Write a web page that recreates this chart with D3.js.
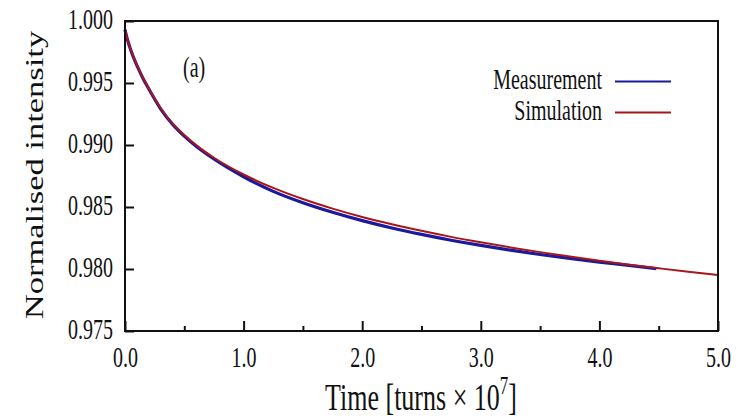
<!DOCTYPE html>
<html>
<head>
<meta charset="utf-8">
<script src="https://cdn.jsdelivr.net/npm/d3@7"></script>
<style>
  html, body { margin: 0; padding: 0; background: #fff; }
  svg { display: block; }
  text { font-family: "Liberation Serif", "Times New Roman", serif; fill: #111; }
</style>
</head>
<body>
<svg id="chart" width="742" height="419"></svg>
<script>
// ---- data ----
const simTime = [0, 0.02, 0.05, 0.1, 0.15, 0.2, 0.3, 0.4, 0.5, 0.6, 0.75, 1.0, 1.25, 1.5, 1.75, 2.0, 2.25, 2.5, 2.75, 3.0, 3.25, 3.5, 3.75, 4.0, 4.25, 4.5, 4.75, 5.0];
const simValues = [0.9993, 0.99855, 0.99765, 0.99645, 0.99545, 0.99458, 0.99298, 0.99175, 0.9908, 0.98999, 0.98897, 0.98762, 0.98654, 0.98564, 0.98487, 0.9842, 0.98361, 0.98308, 0.98259, 0.98215, 0.98174, 0.98136, 0.981, 0.98067, 0.98035, 0.98006, 0.97978, 0.97952];
const measTime = [0, 0.02, 0.05, 0.1, 0.15, 0.2, 0.3, 0.4, 0.5, 0.6, 0.75, 1.0, 1.25, 1.5, 1.75, 2.0, 2.25, 2.5, 2.75, 3.0, 3.25, 3.5, 3.75, 4.0, 4.25, 4.48];
const measValues = [0.9993, 0.99853, 0.99762, 0.99642, 0.99541, 0.99453, 0.99292, 0.99168, 0.99072, 0.9899, 0.98887, 0.98744, 0.98626, 0.98534, 0.98457, 0.9839, 0.98331, 0.98279, 0.98232, 0.9819, 0.98152, 0.98117, 0.98085, 0.98056, 0.98029, 0.98002];
const xTicks = [0, 1, 2, 3, 4, 5];
const xMinorTicks = [0.5, 1.5, 2.5, 3.5, 4.5];
const yTicks = [0.975, 0.980, 0.985, 0.990, 0.995, 1.000];
const seriesNames = ["Measurement", "Simulation"];
const seriesColors = ["#1a1a9c", "#a8161c"];

// ---- layout ----
const svg = d3.select("#chart");
const L = 125, R = 718, T = 21, B = 331;
const STRETCH = 1.42;
const x = d3.scaleLinear().domain([0, 5]).range([L, R]);
const y = d3.scaleLinear().domain([0.975, 1.0]).range([B, T]);

// series
const line = d3.line().x(d => x(d[0])).y(d => y(d[1])).curve(d3.curveMonotoneX);
const meas = measTime.map((t, i) => [t, measValues[i]]);
const sim = simTime.map((t, i) => [t, simValues[i]]);

const plot = svg.append("g");
plot.append("path").datum(meas).attr("d", line)
  .attr("fill", "none").attr("stroke", seriesColors[0]).attr("stroke-width", 3.2);
plot.append("path").datum(sim).attr("d", line)
  .attr("fill", "none").attr("stroke", seriesColors[1]).attr("stroke-width", 2);

// frame
svg.append("rect").attr("x", L).attr("y", T).attr("width", R - L).attr("height", B - T)
  .attr("fill", "none").attr("stroke", "#111").attr("stroke-width", 2);

// x axis major
const gx = svg.append("g").attr("transform", `translate(0,${B})`)
  .call(d3.axisBottom(x).tickValues(xTicks).tickSizeInner(-10).tickSizeOuter(0)
    .tickFormat(d3.format(".1f")));
gx.attr("font-family", null).attr("font-size", null);
gx.select(".domain").remove();
gx.selectAll(".tick line").attr("stroke", "#111").attr("stroke-width", 2);
gx.selectAll(".tick text").attr("y", 0).attr("dy", null)
  .attr("transform", `translate(0,36) scale(1,${STRETCH})`)
  .style("font-family", "'Liberation Serif', serif")
  .style("font-size", "20px").attr("fill", "#111");

// x axis minor
const gxm = svg.append("g").attr("transform", `translate(0,${B})`)
  .call(d3.axisBottom(x).tickValues(xMinorTicks).tickSizeInner(-5).tickSizeOuter(0).tickFormat(""));
gxm.select(".domain").remove();
gxm.selectAll(".tick line").attr("stroke", "#111").attr("stroke-width", 2);

// y axis
const gy = svg.append("g").attr("transform", `translate(${L},0)`)
  .call(d3.axisLeft(y).tickValues(yTicks).tickSizeInner(-9).tickSizeOuter(0)
    .tickFormat(d3.format(".3f")));
gy.attr("font-family", null).attr("font-size", null);
gy.select(".domain").remove();
gy.selectAll(".tick line").attr("stroke", "#111").attr("stroke-width", 2);
gy.selectAll(".tick text").attr("x", 0).attr("dy", null).attr("y", 0)
  .attr("transform", `translate(-12,7) scale(1,${STRETCH})`)
  .attr("text-anchor", "end")
  .style("font-family", "'Liberation Serif', serif")
  .style("font-size", "20px").attr("fill", "#111");

// axis titles
const xt = svg.append("text")
  .attr("transform", `translate(421,410) scale(1,1.45)`)
  .attr("text-anchor", "middle").style("font-size", "26px");
xt.append("tspan").text("Time [turns \u00d7 10");
xt.append("tspan").text("7").style("font-size", "17px").attr("dy", -11);
xt.append("tspan").text("]").attr("dy", 11);

svg.append("text")
  .attr("transform", `translate(43,175) rotate(-90) scale(1.38,1)`)
  .attr("text-anchor", "middle").style("font-size", "25px")
  .text("Normalised intensity");

// panel label
svg.append("text").attr("transform", `translate(183,77) scale(1,${STRETCH})`)
  .style("font-size", "20px").text("(a)");

// legend
const legY = [81.5, 112.5];
const leg = svg.append("g");
seriesNames.forEach((name, i) => {
  leg.append("text").attr("transform", `translate(602,${legY[i] + 7}) scale(1,1.45)`)
    .attr("text-anchor", "end").style("font-size", "20px").text(name);
  leg.append("line").attr("x1", 615).attr("x2", 671).attr("y1", legY[i]).attr("y2", legY[i])
    .attr("stroke", seriesColors[i]).attr("stroke-width", 2.2);
});
</script>
</body>
</html>
